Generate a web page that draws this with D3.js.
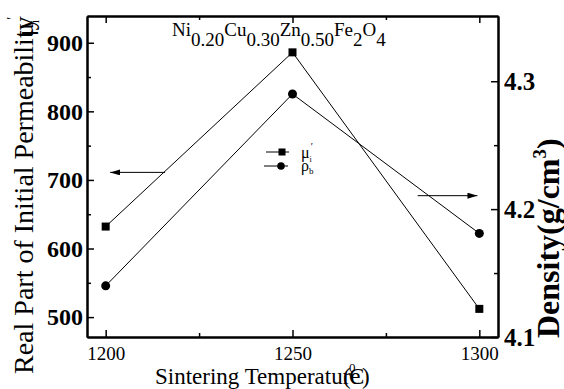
<!DOCTYPE html>
<html>
<head>
<meta charset="utf-8">
<script src="https://cdn.jsdelivr.net/npm/d3@7"></script>
<style>
  body { margin: 0; background: #fff; }
  svg { display: block; }
  text { font-family: "Liberation Serif", "Times New Roman", serif; }
</style>
</head>
<body>
<svg id="chart" width="564" height="389"></svg>
<script>
// data
const temps = [1200, 1250, 1300];
const permeability = [632, 886, 512];
const density = [4.14, 4.29, 4.181];
const xTicks = [1200, 1250, 1300];
const xMinor = [1225, 1275];
const yLeftTicks = [500, 600, 700, 800, 900];
const yLeftMinor = [550, 650, 750, 850];
const yRightTicks = [4.1, 4.2, 4.3];
const yRightMinor = [4.15, 4.25];
const formula = [["Ni", 0], ["0.20", 1], ["Cu", 0], ["0.30", 1], ["Zn", 0], ["0.50", 1], ["Fe", 0], ["2", 1], ["O", 0], ["4", 1]];

const svg = d3.select("#chart");
const pLeft = 87, pRight = 498, pTop = 16, pBottom = 337;

const x = d3.scaleLinear().domain([1195, 1305]).range([pLeft, pRight]);
const yL = d3.scaleLinear().domain([471, 939]).range([pBottom, pTop]);
const yR = d3.scaleLinear().domain([4.1, 4.351]).range([pBottom, pTop]);

function styleAxis(g) {
    g.attr("font-family", null);
    g.select(".domain").attr("stroke-width", 2);
    g.selectAll(".tick line").attr("stroke-width", 1.5);
}

// bottom
svg.append("g").attr("transform", `translate(0,${pBottom})`)
    .call(d3.axisBottom(x).tickValues(xTicks).tickSize(-7).tickPadding(10).tickFormat(d3.format("d")).tickSizeOuter(0))
    .call(styleAxis)
    .call(g => g.selectAll("text").attr("font-size", 19));
svg.append("g").attr("transform", `translate(0,${pBottom})`)
    .call(d3.axisBottom(x).tickValues(xMinor).tickSize(-4).tickFormat("").tickSizeOuter(0))
    .call(styleAxis);
// top
svg.append("g").attr("transform", `translate(0,${pTop})`)
    .call(d3.axisTop(x).tickValues(xTicks).tickSize(-7).tickFormat("").tickSizeOuter(0))
    .call(styleAxis);
svg.append("g").attr("transform", `translate(0,${pTop})`)
    .call(d3.axisTop(x).tickValues(xMinor).tickSize(-4).tickFormat("").tickSizeOuter(0))
    .call(styleAxis);
// left
svg.append("g").attr("transform", `translate(${pLeft},0)`)
    .call(d3.axisLeft(yL).tickValues(yLeftTicks).tickSize(-7).tickPadding(4).tickSizeOuter(0))
    .call(styleAxis)
    .call(g => g.selectAll("text").attr("font-size", 24).attr("font-weight", "bold"));
svg.append("g").attr("transform", `translate(${pLeft},0)`)
    .call(d3.axisLeft(yL).tickValues(yLeftMinor).tickSize(-4).tickFormat("").tickSizeOuter(0))
    .call(styleAxis);
// right
svg.append("g").attr("transform", `translate(${pRight},0)`)
    .call(d3.axisRight(yR).tickValues(yRightTicks).tickSize(-7).tickPadding(6).tickFormat(d3.format(".1f")).tickSizeOuter(0))
    .call(styleAxis)
    .call(g => g.selectAll("text").attr("font-size", 25).attr("font-weight", "bold"));
svg.append("g").attr("transform", `translate(${pRight},0)`)
    .call(d3.axisRight(yR).tickValues(yRightMinor).tickSize(-4).tickFormat("").tickSizeOuter(0))
    .call(styleAxis);

// series lines
const lineL = d3.line().x((d, i) => x(temps[i])).y(d => yL(d));
const lineR = d3.line().x((d, i) => x(temps[i])).y(d => yR(d));
svg.append("path").attr("d", lineL(permeability)).attr("fill", "none").attr("stroke", "#000").attr("stroke-width", 1);
svg.append("path").attr("d", lineR(density)).attr("fill", "none").attr("stroke", "#000").attr("stroke-width", 1);

svg.selectAll(".sq").data(permeability).enter().append("rect")
    .attr("x", (d, i) => x(temps[i]) - 4).attr("y", d => yL(d) - 4)
    .attr("width", 8).attr("height", 8).attr("fill", "#000");
svg.selectAll(".ci").data(density).enter().append("circle")
    .attr("cx", (d, i) => x(temps[i])).attr("cy", d => yR(d))
    .attr("r", 4.5).attr("fill", "#000");

// arrows
svg.append("defs").append("marker")
    .attr("id", "arr").attr("viewBox", "0 0 10 6").attr("refX", 10).attr("refY", 3)
    .attr("markerWidth", 10).attr("markerHeight", 6).attr("markerUnits", "userSpaceOnUse")
    .attr("orient", "auto")
    .append("path").attr("d", "M0,0L10,3L0,6Z").attr("fill", "#000");
svg.append("line")
    .attr("x1", x(1215.9)).attr("x2", x(1201.2)).attr("y1", yL(711)).attr("y2", yL(711))
    .attr("stroke", "#000").attr("stroke-width", 1).attr("marker-end", "url(#arr)");
svg.append("line")
    .attr("x1", x(1283.5)).attr("x2", x(1299.5)).attr("y1", yR(4.2105)).attr("y2", yR(4.2105))
    .attr("stroke", "#000").attr("stroke-width", 1).attr("marker-end", "url(#arr)");

// legend
const lg = svg.append("g");
lg.append("line").attr("x1", 266).attr("x2", 289).attr("y1", 152).attr("y2", 152).attr("stroke", "#000");
lg.append("rect").attr("x", 278.5).attr("y", 148.5).attr("width", 7).attr("height", 7).attr("fill", "#000");
lg.append("line").attr("x1", 264).attr("x2", 288).attr("y1", 166).attr("y2", 166).attr("stroke", "#000");
lg.append("circle").attr("cx", 281).attr("cy", 166).attr("r", 3.8).attr("fill", "#000");
const t1 = lg.append("text").attr("x", 301).attr("y", 158).attr("font-size", 16);
t1.append("tspan").text("μ");
t1.append("tspan").attr("dy", 4).attr("font-size", 8).text("i");
t1.append("tspan").attr("dy", -12).attr("dx", -1).attr("font-size", 10).text("′");
const t2 = lg.append("text").attr("x", 301).attr("y", 171).attr("font-size", 16);
t2.append("tspan").text("ρ");
t2.append("tspan").attr("dy", 3).attr("font-size", 9).text("b");

// formula
const f = svg.append("text").attr("x", 172).attr("y", 36).attr("font-size", 19);
formula.forEach(function(p, i, arr) {
    const prev = i > 0 ? arr[i - 1][1] : 0;
    f.append("tspan").attr("dy", (p[1] - prev) * 10).text(p[0]);
});

// axis titles
svg.append("text")
    .attr("transform", "translate(33,374) rotate(-90)")
    .attr("font-size", 28)
    .text("Real Part of Initial Permeability");
const mu = svg.append("text")
    .attr("transform", "translate(33,36) rotate(-90)")
    .attr("font-size", 24);
mu.append("tspan").text("μ");
mu.append("tspan").attr("dy", 6).attr("font-size", 12).text("i");
mu.append("tspan").attr("dy", -22).attr("font-size", 14).text("′");

svg.append("text").attr("x", 155).attr("y", 384).attr("font-size", 23).text("Sintering Temperature");
svg.append("text").attr("x", 343).attr("y", 384).attr("font-size", 23).text("(");
svg.append("text").attr("x", 349).attr("y", 372).attr("font-size", 13).text("0");
svg.append("text").attr("x", 349).attr("y", 384).attr("font-size", 23).text("C");
svg.append("text").attr("x", 362).attr("y", 384).attr("font-size", 23).text(")");

const dens = svg.append("text")
    .attr("transform", "translate(559,338) rotate(-90)")
    .attr("font-size", 32).attr("font-weight", "bold");
dens.append("tspan").text("Density(g/cm");
dens.append("tspan").attr("dy", -13).attr("font-size", 19).text("3");
dens.append("tspan").attr("dy", 13).text(")");
</script>
</body>
</html>
